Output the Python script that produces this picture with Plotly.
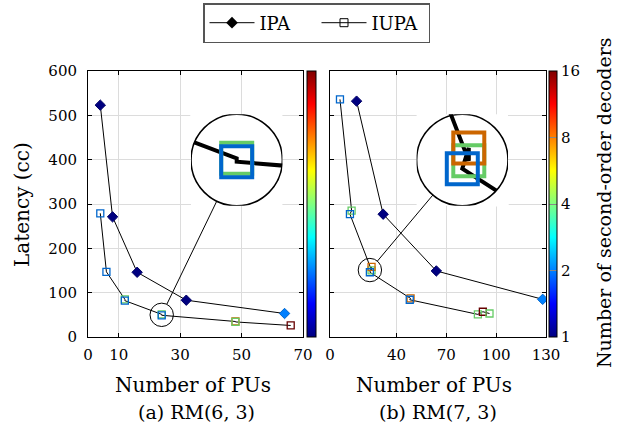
import math
import plotly.graph_objects as go

W, H = 630, 436
FONT = "DejaVu Serif"

# ---------------- data ----------------
# (a) RM(6,3)
pus_ipa_a = [4, 8, 16, 32, 64]
lat_ipa_a = [523, 271, 146, 83, 53]
dec_ipa_a = [1, 1, 1, 1, 2]

pus_iupa_a = [4, 6, 12, 12, 24, 24, 48, 48, 66]
lat_iupa_a = [279, 147, 85, 82, 51, 49, 35, 34, 26]
dec_iupa_a = [2, 2, 4, 2, 4, 2, 8, 4, 16]

# (b) RM(7,3)
pus_ipa_b = [16, 32, 64, 128]
lat_ipa_b = [532, 277, 149, 85]
dec_ipa_b = [1, 1, 1, 2]

pus_iupa_b = [6, 13, 12, 25, 25, 24, 48.5, 48, 89, 92, 96]
lat_iupa_b = [536, 285, 277, 150.5, 158, 146, 87, 84, 51, 57, 53]
dec_iupa_b = [2, 4, 2, 4, 8, 2, 8, 2, 4, 16, 4]

xticks_a = [0, 10, 30, 50, 70]
xticks_b = [0, 40, 70, 100, 130]
yticks = [0, 100, 200, 300, 400, 500, 600]
dec_ticks = [1, 2, 4, 8, 16]

zoom_a = (24, 50)     # centre of magnified region (PUs, latency)
zoom_b = (24, 151)

# ---------------- geometry (pixels) ----------------
PA = (88, 303)
PB = (330, 546)
PY = (71, 337)           # top, bottom
XR_A = (0, 70)
XR_B = (0, 130)
YR = (0, 600)
R_SMALL, R_BIG = 11.7, 45.7
BIG_A = (236.7, 160)
BIG_B = (462.3, 160)

JET = [(0, (0, 0, 128)), (0.125, (0, 0, 255)), (0.375, (0, 255, 255)),
       (0.625, (255, 255, 0)), (0.875, (255, 0, 0)), (1, (128, 0, 0))]
JET_SCALE = [[t, "rgb(%d,%d,%d)" % c] for t, c in JET]
CMAX = math.log2(dec_ticks[-1])


def jet(dec, k=1.0):
    t = math.log2(dec) / CMAX
    for (t0, c0), (t1, c1) in zip(JET, JET[1:]):
        if t <= t1 + 1e-9:
            f = (t - t0) / (t1 - t0)
            return "rgb(%d,%d,%d)" % tuple(round(k * (a + (b - a) * f)) for a, b in zip(c0, c1))
    return "rgb(128,0,0)"


def fx(px):
    return px / W


def fy(py):
    return 1 - py / H


def to_px(x, y, xr, xpx):
    px = xpx[0] + (x - xr[0]) / (xr[1] - xr[0]) * (xpx[1] - xpx[0])
    py = PY[1] - (y - YR[0]) / (YR[1] - YR[0]) * (PY[1] - PY[0])
    return px, py


fig = go.Figure()


def add_series(xa, ya, pus_ipa, lat_ipa, dec_ipa, pus_iupa, lat_iupa, dec_iupa,
               big=False, colorbar=None):
    lw = 4 if big else 1
    fig.add_trace(go.Scatter(
        x=pus_ipa, y=lat_ipa, xaxis=xa, yaxis=ya, mode="lines+markers",
        showlegend=False, hoverinfo="skip",
        line=dict(color="black", width=lw),
        marker=dict(symbol="diamond", size=34 if big else 8,
                    color=[math.log2(d) for d in dec_ipa],
                    colorscale=JET_SCALE, cmin=0, cmax=CMAX,
                    showscale=colorbar is not None,
                    colorbar=colorbar if colorbar is not None else None,
                    line=dict(width=lw, color=[jet(d, 0.8) for d in dec_ipa]))))
    fig.add_trace(go.Scatter(
        x=pus_iupa, y=lat_iupa, xaxis=xa, yaxis=ya, mode="lines+markers",
        showlegend=False, hoverinfo="skip",
        line=dict(color="black", width=lw),
        marker=dict(symbol="square-open", size=31 if big else 7,
                    color=[jet(d, 0.8) for d in dec_iupa],
                    line=dict(width=4 if big else 1.3))))


cb_common = dict(xref="paper", xanchor="left", yanchor="bottom", y=fy(PY[1]),
                 len=(PY[1] - PY[0]) / H, lenmode="fraction", thicknessmode="pixels",
                 xpad=0, ypad=0, outlinewidth=1, outlinecolor="black")
cb_a = dict(cb_common, x=fx(307), thickness=9, showticklabels=False, ticks="")
cb_b = dict(cb_common, x=fx(549), thickness=8,
            tickvals=[math.log2(d) for d in dec_ticks],
            ticktext=[str(d) for d in dec_ticks],
            ticks="inside", ticklen=8, tickcolor="#888", tickwidth=1,
            tickfont=dict(family=FONT, size=15, color="black"))

add_series("x", "y", pus_ipa_a, lat_ipa_a, dec_ipa_a, pus_iupa_a, lat_iupa_a, dec_iupa_a,
           colorbar=cb_a)
add_series("x2", "y2", pus_ipa_b, lat_ipa_b, dec_ipa_b, pus_iupa_b, lat_iupa_b, dec_iupa_b,
           colorbar=cb_b)
add_series("x3", "y3", pus_ipa_a, lat_ipa_a, dec_ipa_a, pus_iupa_a, lat_iupa_a, dec_iupa_a,
           big=True)
add_series("x4", "y4", pus_ipa_b, lat_ipa_b, dec_ipa_b, pus_iupa_b, lat_iupa_b, dec_iupa_b,
           big=True)

# legend entries
fig.add_trace(go.Scatter(x=[None], y=[None], mode="lines+markers", name="IPA",
                         line=dict(color="black", width=1),
                         marker=dict(symbol="diamond", size=9, color="black")))
fig.add_trace(go.Scatter(x=[None], y=[None], mode="lines+markers", name="IUPA",
                         line=dict(color="black", width=1),
                         marker=dict(symbol="square-open", size=8, color="black",
                                     line=dict(width=1))))

tickfont = dict(family=FONT, size=15, color="black")
ax_common = dict(showline=True, linecolor="black", linewidth=1, mirror="ticks",
                 ticks="inside", ticklen=4, tickcolor="black", showgrid=True,
                 gridcolor="#dcdcdc", gridwidth=1, zeroline=False, tickfont=tickfont)

ydom = [fy(PY[1]), fy(PY[0])]
layout_axes = dict(
    xaxis=dict(ax_common, domain=[fx(PA[0]), fx(PA[1])], range=list(XR_A), tickvals=xticks_a,
               anchor="y", ticklabelstandoff=4),
    yaxis=dict(ax_common, domain=ydom, range=list(YR), tickvals=yticks, anchor="x",
               ticklabelstandoff=7),
    xaxis2=dict(ax_common, domain=[fx(PB[0]), fx(PB[1])], range=list(XR_B), tickvals=xticks_b,
                anchor="y2", ticklabelstandoff=4),
    yaxis2=dict(ax_common, domain=ydom, range=list(YR), tickvals=yticks, anchor="x2",
                showticklabels=False),
)

shapes = []
annotations = []
insets = [("x", "y", "x3", "y3", "xaxis3", "yaxis3", zoom_a, XR_A, PA, BIG_A),
          ("x2", "y2", "x4", "y4", "xaxis4", "yaxis4", zoom_b, XR_B, PB, BIG_B)]
for (mx, my, ix, iy, xname, yname, zc, xr, xpx, bigc) in insets:
    hx = R_SMALL / ((xpx[1] - xpx[0]) / (xr[1] - xr[0]))
    hy = R_SMALL / ((PY[1] - PY[0]) / (YR[1] - YR[0]))
    x0, x1, y0, y1 = zc[0] - hx, zc[0] + hx, zc[1] - hy, zc[1] + hy
    hidden = dict(visible=False, showgrid=False, zeroline=False, fixedrange=True)
    layout_axes[xname] = dict(hidden, domain=[fx(bigc[0] - R_BIG), fx(bigc[0] + R_BIG)],
                              range=[x0, x1], anchor=iy)
    layout_axes[yname] = dict(hidden, domain=[fy(bigc[1] + R_BIG), fy(bigc[1] - R_BIG)],
                              range=[y0, y1], anchor=ix)
    # white disc behind the magnified view
    shapes.append(dict(type="circle", xref=ix, yref=iy, x0=x0, x1=x1, y0=y0, y1=y1,
                       fillcolor="white", line=dict(width=0), layer="below"))


def corner_mask(center, a_start, a_end):
    cxp, cyp = center
    angs = [a_start + i * 1.0 for i in range(int(a_end - a_start) + 1)]
    pts = []
    for a in angs:
        t = math.radians(a)
        pts.append((cxp + (R_BIG + 0.3) * math.cos(t), cyp + (R_BIG + 0.3) * math.sin(t)))
    for a in reversed(angs):
        t = math.radians(a)
        d = R_BIG / max(abs(math.cos(t)), abs(math.sin(t))) + 1
        pts.append((cxp + d * math.cos(t), cyp + d * math.sin(t)))
    path = "M" + " L".join("%.5f,%.5f" % (fx(p[0]), fy(p[1])) for p in pts) + " Z"
    return dict(type="path", xref="paper", yref="paper", path=path,
                fillcolor="white", line=dict(width=0), layer="above")


# hide parts of the magnified lines falling outside the circular lens
shapes.append(corner_mask(BIG_B, 25, 60))
shapes.append(corner_mask(BIG_A, 188, 228))
shapes.append(corner_mask(BIG_A, 4, 30))

for (mx, my, ix, iy, xname, yname, zc, xr, xpx, bigc) in insets:
    hx = R_SMALL / ((xpx[1] - xpx[0]) / (xr[1] - xr[0]))
    hy = R_SMALL / ((PY[1] - PY[0]) / (YR[1] - YR[0]))
    x0, x1, y0, y1 = zc[0] - hx, zc[0] + hx, zc[1] - hy, zc[1] + hy
    shapes.append(dict(type="circle", xref=ix, yref=iy, x0=x0, x1=x1, y0=y0, y1=y1,
                       line=dict(color="black", width=1.6), layer="above"))
    shapes.append(dict(type="circle", xref=mx, yref=my, x0=x0, x1=x1, y0=y0, y1=y1,
                       line=dict(color="black", width=1), layer="above"))
    sx, sy = to_px(zc[0], zc[1], xr, xpx)
    dx, dy = bigc[0] - sx, bigc[1] - sy
    n = math.hypot(dx, dy)
    ux, uy = dx / n, dy / n
    shapes.append(dict(type="line", xref="paper", yref="paper",
                       x0=fx(sx + R_SMALL * ux), y0=fy(sy + R_SMALL * uy),
                       x1=fx(bigc[0] - R_BIG * ux), y1=fy(bigc[1] - R_BIG * uy),
                       line=dict(color="black", width=1), layer="above"))

for txt, x, y, ang, fs in [("Latency (cc)", 22, 205, -90, 20),
                           ("Number of PUs", 193, 385, 0, 20),
                           ("Number of PUs", 434, 385, 0, 20),
                           ("(a) RM(6, 3)", 196, 412, 0, 19),
                           ("(b) RM(7, 3)", 438, 412, 0, 19),
                           ("Number of second-order decoders", 604, 203, -90, 19)]:
    annotations.append(dict(text=txt, x=fx(x), y=fy(y), xref="paper", yref="paper",
                            xanchor="center", yanchor="middle", showarrow=False,
                            textangle=ang, font=dict(family=FONT, size=fs, color="black")))

fig.update_layout(
    width=W, height=H,
    margin=dict(l=0, r=0, t=0, b=0, autoexpand=False),
    paper_bgcolor="white", plot_bgcolor="white",
    font=dict(family=FONT, size=15, color="black"),
    showlegend=True,
    legend=dict(orientation="h", x=fx(316.5), xanchor="center", y=fy(3), yanchor="top",
                bordercolor="#555", borderwidth=1.5, bgcolor="white",
                font=dict(family=FONT, size=18, color="black"), itemwidth=45,
                entrywidth=52),
    shapes=shapes,
    annotations=annotations,
    **layout_axes,
)

fig.write_html("out.html")
